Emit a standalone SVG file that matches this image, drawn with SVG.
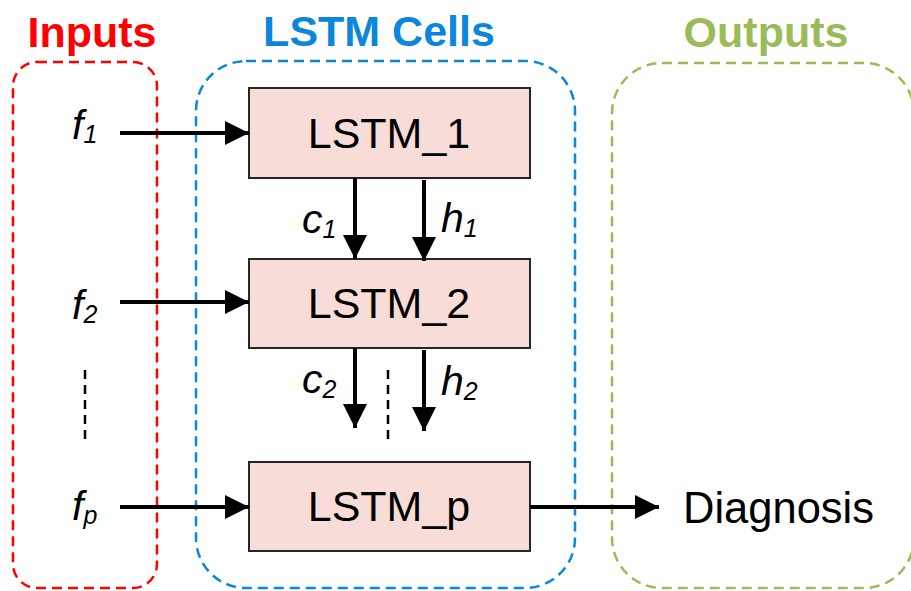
<svg xmlns="http://www.w3.org/2000/svg" width="911" height="591" viewBox="0 0 911 591">
<defs>
<style>
.title{font-family:"Liberation Sans",Arial,sans-serif;font-weight:bold;font-size:43px;text-anchor:middle}
.grp{fill:none;stroke-width:2.5;stroke-dasharray:10 6}
.cell{fill:#F8DCD7;stroke:#262626;stroke-width:2}
.ctext{font-family:"Liberation Sans",Arial,sans-serif;font-size:43px;text-anchor:middle;fill:#000}
.lbl{font-family:"Liberation Sans",Arial,sans-serif;font-style:italic;font-size:41px;fill:#000}
.sub{font-size:25px}
.conn{stroke:#000;stroke-width:4;fill:none}
.dash{stroke:#000;stroke-width:2.5;stroke-dasharray:9 6;fill:none}
.out{font-family:"Liberation Sans",Arial,sans-serif;font-size:43.5px;fill:#000}
</style>
<marker id="ah" markerUnits="userSpaceOnUse" viewBox="0 0 24 24" refX="24" refY="12" markerWidth="24" markerHeight="24" orient="auto">
<path d="M0,0 L24,12 L0,24 Z" fill="#000"/>
</marker>
</defs>
<rect width="911" height="591" fill="#fff"/>

<g id="inputs-group">
<rect class="grp" x="13" y="62" width="144" height="526" rx="24" stroke="#FF0000"/>
<text class="title" x="92" y="47" fill="#FF0000">Inputs</text>
</g>
<g id="cells-group">
<rect class="grp" x="196" y="61" width="379" height="527" rx="50" stroke="#0A86DC"/>
<text class="title" x="379" y="46" fill="#0A86DC">LSTM Cells</text>
</g>
<g id="outputs-group">
<rect class="grp" x="612" y="63" width="302" height="525" rx="50" stroke="#9BBB59"/>
<text class="title" x="766" y="47" fill="#9BBB59">Outputs</text>
</g>

<g id="lstm1">
<rect class="cell" x="249" y="88" width="281" height="90"/>
<text class="ctext" x="389" y="148">LSTM_1</text>
</g>
<g id="lstm2">
<rect class="cell" x="249" y="259" width="281" height="89"/>
<text class="ctext" x="389" y="318">LSTM_2</text>
</g>
<g id="lstmp">
<rect class="cell" x="249" y="462" width="281" height="89"/>
<text class="ctext" x="389" y="521">LSTM_p</text>
</g>

<g id="f1"><text class="lbl" x="72" y="139">f<tspan class="sub" dy="4">1</tspan></text></g>
<g id="f2"><text class="lbl" x="72" y="319">f<tspan class="sub" dy="4">2</tspan></text></g>
<g id="fp"><text class="lbl" x="72" y="520">f<tspan class="sub" dy="4">p</tspan></text></g>
<g id="diagnosis"><text class="out" x="683" y="523">Diagnosis</text></g>

<g id="connectors">
<line class="conn" x1="120" y1="133" x2="249" y2="133" marker-end="url(#ah)"/>
<line class="conn" x1="120" y1="302" x2="249" y2="302" marker-end="url(#ah)"/>
<line class="conn" x1="120" y1="507" x2="249" y2="507" marker-end="url(#ah)"/>
<line class="conn" x1="355" y1="178" x2="355" y2="259" marker-end="url(#ah)"/>
<line class="conn" x1="424" y1="180" x2="424" y2="261" marker-end="url(#ah)"/>
<line class="conn" x1="355" y1="348" x2="355" y2="428" marker-end="url(#ah)"/>
<line class="conn" x1="424" y1="350" x2="424" y2="431" marker-end="url(#ah)"/>
<line class="conn" x1="530" y1="507" x2="659" y2="507" marker-end="url(#ah)"/>
<line class="dash" x1="85" y1="370" x2="85" y2="443"/>
<line class="dash" x1="388" y1="370" x2="388" y2="443"/>
<text class="lbl" x="302" y="233">c<tspan class="sub" dy="5">1</tspan></text>
<text class="lbl" x="441" y="232">h<tspan class="sub" dy="5">1</tspan></text>
<text class="lbl" x="302" y="393">c<tspan class="sub" dy="5">2</tspan></text>
<text class="lbl" x="441" y="395">h<tspan class="sub" dy="5">2</tspan></text>
</g>
</svg>
